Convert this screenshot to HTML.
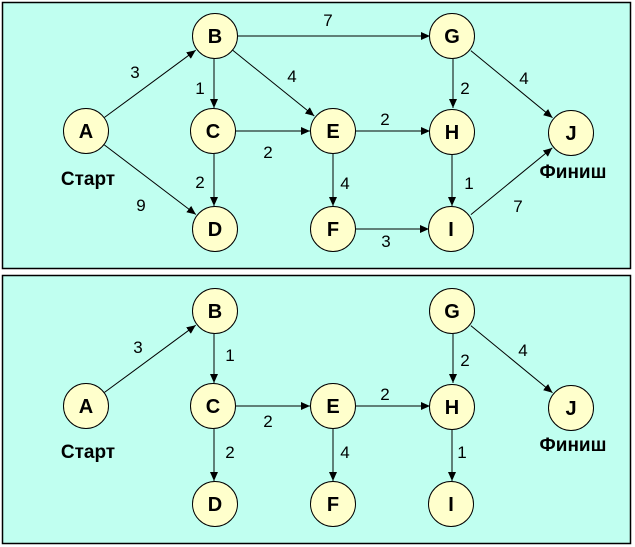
<!DOCTYPE html>
<html><head><meta charset="utf-8"><style>
html,body{margin:0;padding:0;background:#fff;}
svg{display:block;}
text{font-family:"Liberation Sans",Arial,sans-serif;}
.n{font-weight:bold;font-size:20px;text-anchor:middle;}
.l{font-size:17px;text-anchor:middle;}
.t{font-weight:bold;font-size:19px;text-anchor:middle;}
line{stroke:#000;stroke-width:1;marker-end:url(#a);}
circle{fill:#ffffcc;stroke:#000;stroke-width:1;}
</style></head><body>
<svg width="635" height="547" viewBox="0 0 635 547">
<defs><marker id="a" markerUnits="userSpaceOnUse" markerWidth="10" markerHeight="8" refX="9" refY="4" orient="auto"><path d="M0,0 L9,4 L0,8 z" fill="#000"/></marker></defs>
<rect x="2.5" y="2.5" width="628" height="266" fill="#c0fff0" stroke="#000" stroke-width="1.5"/>
<rect x="2.5" y="275.5" width="628" height="268" fill="#c0fff0" stroke="#000" stroke-width="1.5"/>
<g>
<line x1="104.5" y1="117.4" x2="195.7" y2="50.2"/>
<line x1="104.3" y1="144.9" x2="195.9" y2="214.5"/>
<line x1="214" y1="59" x2="214" y2="108"/>
<line x1="232.9" y1="50.4" x2="314.3" y2="116"/>
<line x1="238" y1="36" x2="430" y2="36"/>
<line x1="236" y1="131" x2="310" y2="131"/>
<line x1="214" y1="154" x2="214" y2="206"/>
<line x1="356" y1="131" x2="430" y2="131"/>
<line x1="333" y1="154" x2="333" y2="206"/>
<line x1="356" y1="229" x2="429" y2="229"/>
<line x1="453" y1="59" x2="453" y2="108"/>
<line x1="470.8" y1="50.6" x2="552.5" y2="117.8"/>
<line x1="452" y1="154" x2="452" y2="206"/>
<line x1="470.9" y1="214.6" x2="552.3" y2="147.9"/>
</g>
<g transform="translate(0,275)">
<line x1="104.5" y1="117.4" x2="195.7" y2="50.2"/>
<line x1="214" y1="59" x2="214" y2="108"/>
<line x1="236" y1="131" x2="310" y2="131"/>
<line x1="214" y1="154" x2="214" y2="206"/>
<line x1="356" y1="131" x2="430" y2="131"/>
<line x1="333" y1="154" x2="333" y2="206"/>
<line x1="453" y1="59" x2="453" y2="108"/>
<line x1="470.8" y1="50.6" x2="552.5" y2="117.8"/>
<line x1="452" y1="154" x2="452" y2="206"/>
</g>
<g>
<circle cx="86" cy="131" r="22.5"/><circle cx="215" cy="36" r="22.5"/><circle cx="213" cy="131" r="22.5"/><circle cx="215" cy="229" r="22.5"/><circle cx="333" cy="131" r="22.5"/><circle cx="333" cy="229" r="22.5"/><circle cx="452" cy="36" r="22.5"/><circle cx="452" cy="132" r="22.5"/><circle cx="451" cy="229" r="22.5"/><circle cx="571" cy="133" r="22.5"/>
<text class="n" x="86" y="138">A</text><text class="n" x="215" y="43">B</text><text class="n" x="213" y="138">C</text><text class="n" x="215" y="236">D</text><text class="n" x="333" y="138">E</text><text class="n" x="333" y="236">F</text><text class="n" x="452" y="43">G</text><text class="n" x="452" y="139">H</text><text class="n" x="451" y="236">I</text><text class="n" x="571" y="140">J</text>
</g>
<g transform="translate(0,275)">
<circle cx="86" cy="131" r="22.5"/><circle cx="215" cy="36" r="22.5"/><circle cx="213" cy="131" r="22.5"/><circle cx="215" cy="229" r="22.5"/><circle cx="333" cy="131" r="22.5"/><circle cx="333" cy="229" r="22.5"/><circle cx="452" cy="36" r="22.5"/><circle cx="452" cy="132" r="22.5"/><circle cx="451" cy="229" r="22.5"/><circle cx="571" cy="133" r="22.5"/>
<text class="n" x="86" y="138">A</text><text class="n" x="215" y="43">B</text><text class="n" x="213" y="138">C</text><text class="n" x="215" y="236">D</text><text class="n" x="333" y="138">E</text><text class="n" x="333" y="236">F</text><text class="n" x="452" y="43">G</text><text class="n" x="452" y="139">H</text><text class="n" x="451" y="236">I</text><text class="n" x="571" y="140">J</text>
</g>
<text class="t" x="88" y="185">Старт</text><text class="t" x="573" y="178">Финиш</text>
<text class="t" x="88" y="458">Старт</text><text class="t" x="573" y="451">Финиш</text>
<g>
<text class="l" x="135" y="78">3</text><text class="l" x="200" y="94">1</text><text class="l" x="292" y="82">4</text><text class="l" x="328" y="26">7</text><text class="l" x="268" y="158">2</text><text class="l" x="200" y="188">2</text><text class="l" x="141" y="211">9</text><text class="l" x="385" y="125">2</text><text class="l" x="345" y="189">4</text><text class="l" x="386" y="247">3</text><text class="l" x="465" y="94">2</text><text class="l" x="524" y="84">4</text><text class="l" x="469" y="189">1</text><text class="l" x="518" y="212">7</text>
</g>
<g transform="translate(0,275)">
<text class="l" x="138" y="78">3</text><text class="l" x="230" y="86">1</text><text class="l" x="268" y="152">2</text><text class="l" x="230" y="183">2</text><text class="l" x="385" y="125">2</text><text class="l" x="345" y="183">4</text><text class="l" x="465" y="91">2</text><text class="l" x="523" y="81">4</text><text class="l" x="462" y="183">1</text>
</g>
</svg>
</body></html>
